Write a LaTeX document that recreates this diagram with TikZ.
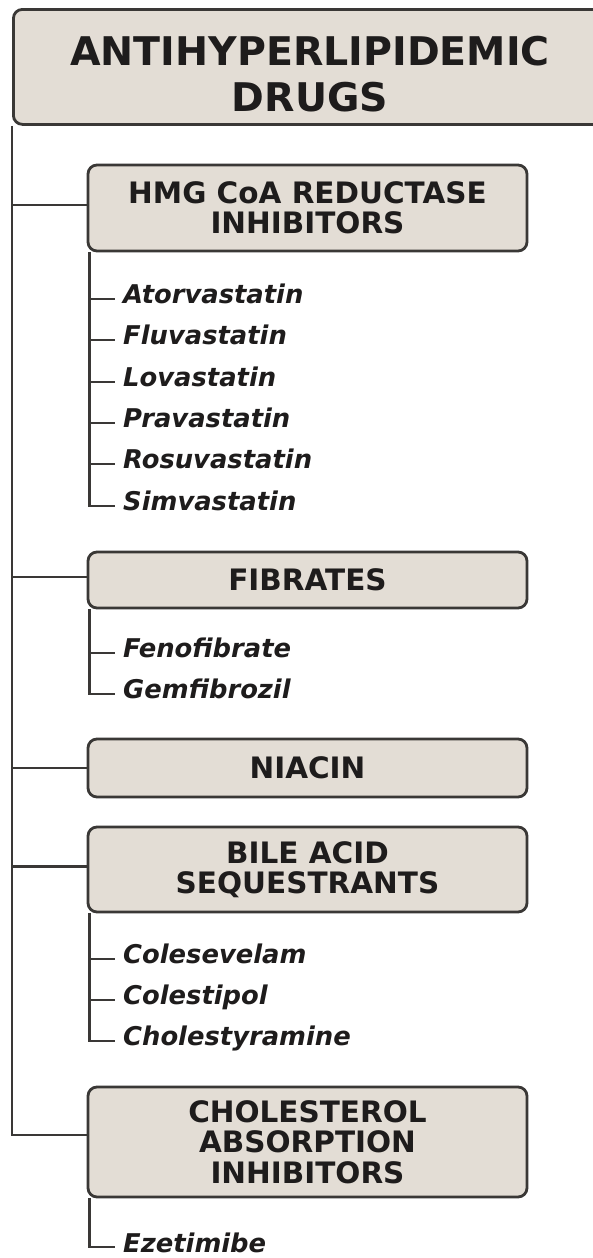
\documentclass[tikz,border=0pt]{standalone}
\usepackage{fontspec}
\setmainfont{DejaVu Sans}
\definecolor{boxfill}{RGB}{227,221,213}
\definecolor{linec}{RGB}{58,56,54}
\definecolor{txt}{RGB}{30,28,28}
\begin{document}
\begin{tikzpicture}[x=1pt,y=-1pt,
  box/.style={draw=linec, line width=2.8pt, fill=boxfill, rounded corners=9pt,
    minimum width=439pt, align=center, text=txt, inner sep=0pt,
    font=\bfseries\fontsize{29.5}{30.5}\selectfont},
  drug/.style={anchor=base west, inner sep=0pt, text=txt,
    font=\bfseries\itshape\fontsize{25.8}{27}\selectfont},
  conn/.style={draw=linec, line width=2.7pt}]
\useasboundingbox (0,0) rectangle (593,1258);
\fill[white] (0,0) rectangle (593,1258);

% root
\node[box, minimum width=600pt, minimum height=115pt, anchor=north west] (root) at (12,8) {};
\node[align=center, text=txt, inner sep=0pt,
  font=\bfseries\fontsize{39.5}{46}\selectfont] (roottitle) at (310,74)
  {ANTIHYPERLIPIDEMIC\\DRUGS};

% class boxes
\node[box, minimum height=86pt] (hmg) at (307.5,208) {HMG CoA REDUCTASE\\INHIBITORS};
\node[box, minimum height=56pt] (fib) at (307.5,580) {FIBRATES};
\node[box, minimum height=58pt] (nia) at (307.5,768) {NIACIN};
\node[box, minimum height=85pt] (bile) at (307.5,869.5) {BILE ACID\\SEQUESTRANTS};
\node[box, minimum height=110pt] (chol) at (307.5,1142) {CHOLESTEROL\\ABSORPTION\\INHIBITORS};

% main trunk and branches
\coordinate (trunkend) at ([yshift=7pt]chol.west -| root.south west);
\draw[conn] (root.south west) -- (trunkend) -- ([yshift=7pt]chol.west);
\draw[conn] ([yshift=3pt]hmg.west -| root.south west) -- ([yshift=3pt]hmg.west);
\draw[conn] ([yshift=3pt]fib.west -| root.south west) -- ([yshift=3pt]fib.west);
\draw[conn] (nia.west -| root.south west) -- (nia.west);
\draw[conn] ([yshift=3pt]bile.west -| root.south west) -- ([yshift=3pt]bile.west);

% drugs
\node[drug] (ator) at (123,303) {Atorvastatin};
\node[drug] (fluv) at (123,344) {Fluvastatin};
\node[drug] (lova) at (123,386) {Lovastatin};
\node[drug] (prav) at (123,427) {Pravastatin};
\node[drug] (rosu) at (123,468) {Rosuvastatin};
\node[drug] (simv) at (123,510) {Simvastatin};

\node[drug] (feno) at (123,657) {Fenofibrate};
\node[drug] (gemf) at (123,698) {Gemfibrozil};

\node[drug] (cole) at (123,963) {Colesevelam};
\node[drug] (colp) at (123,1004) {Colestipol};
\node[drug] (chst) at (123,1045) {Cholestyramine};

\node[drug] (ezet) at (123,1252) {Ezetimibe};

% sub trunks
\coordinate (hmgsub) at ([xshift=3pt]hmg.south west);
\coordinate (fibsub) at ([xshift=3pt]fib.south west);
\coordinate (bilesub) at ([xshift=3pt]bile.south west);
\coordinate (cholsub) at ([xshift=3pt]chol.south west);

\draw[conn] (hmgsub) |- ([xshift=-8pt,yshift=4pt]simv.base west);
\foreach \d in {ator,fluv,lova,prav,rosu}
  \draw[conn] ([yshift=4pt]\d.base west -| hmgsub) -- ([xshift=-8pt,yshift=4pt]\d.base west);

\draw[conn] (fibsub) |- ([xshift=-8pt,yshift=4pt]gemf.base west);
\draw[conn] ([yshift=4pt]feno.base west -| fibsub) -- ([xshift=-8pt,yshift=4pt]feno.base west);

\draw[conn] (bilesub) |- ([xshift=-8pt,yshift=4pt]chst.base west);
\foreach \d in {cole,colp}
  \draw[conn] ([yshift=4pt]\d.base west -| bilesub) -- ([xshift=-8pt,yshift=4pt]\d.base west);

\draw[conn] (cholsub) |- ([xshift=-8pt,yshift=5pt]ezet.base west);
\end{tikzpicture}
\end{document}
